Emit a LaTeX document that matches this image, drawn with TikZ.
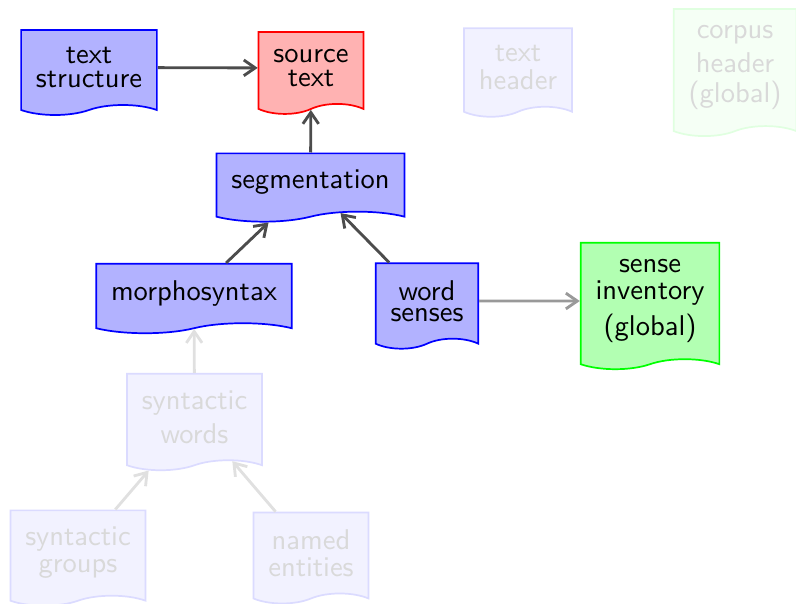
\documentclass[tikz,border=0pt]{standalone}
\usetikzlibrary{shapes.symbols,arrows.meta}
\begin{document}
\begin{tikzpicture}[x=0.35pt,y=-0.35pt]
\tikzset{
  doc/.style={tape, tape bend top=none, tape bend bottom=in and out,
    tape bend height=3.5pt, draw, line width=0.6pt, align=center,
    inner xsep=5.2pt, inner ysep=5.9pt,
    font={\sffamily\baselineskip=0pt\lineskiplimit=0pt\lineskip=2.8pt}},
  layerdoc/.style={doc, fill=blue!30, draw=blue, text=black},
  sourcedoc/.style={doc, fill=red!30, draw=red, text=black},
  globaldoc/.style={doc, fill=green!30, draw=green, text=black},
  fadeddoc/.style={doc, fill=blue!5, draw=blue!14, text=black!15},
  fadedglobal/.style={doc, fill=green!4, draw=green!12, text=black!15},
  dep/.style={line width=1pt, -{Straight Barb[length=4pt,width=5.5pt]}},
  strongdep/.style={dep, draw=black!70},
  globaldep/.style={dep, draw=black!40},
  fadeddep/.style={dep, draw=black!12},
}
\useasboundingbox (0,0) rectangle (796,603);

% annotation layers
\node[layerdoc]   (textstruct) at (89,67.5)  {text\\structure};
\node[sourcedoc]  (source)     at (311,68)   {source\\text};
\node[fadeddoc]   (theader)    at (518,67.5) {text\\header};
\node[fadedglobal](corpus)     at (735,67.5) {corpus\\header\\(global)};
\node[layerdoc]   (seg)        at (310.5,182.5) {segmentation};
\node[layerdoc]   (morpho)     at (194,293.5) {morphosyntax};
\node[layerdoc]   (wsenses)    at (427,301)  {word\\senses};
\node[globaldoc]  (senseinv)   at (650,301)  {sense\\inventory\\(global)};
\node[fadeddoc]   (synwords)   at (194.5,417) {syntactic\\words};
\node[fadeddoc]   (syngroups)  at (78,553)   {syntactic\\groups};
\node[fadeddoc]   (named)      at (311,553)  {named\\entities};

% dependencies
\draw[strongdep] (textstruct) -- (source);
\draw[strongdep] (seg) -- (source);
\draw[strongdep] (morpho) -- (seg);
\draw[strongdep] (wsenses) -- (seg);
\draw[globaldep] (wsenses) -- (senseinv);
\draw[fadeddep]  (synwords) -- (morpho);
\draw[fadeddep]  (syngroups) -- (synwords);
\draw[fadeddep]  (named) -- (synwords);
\end{tikzpicture}
\end{document}
